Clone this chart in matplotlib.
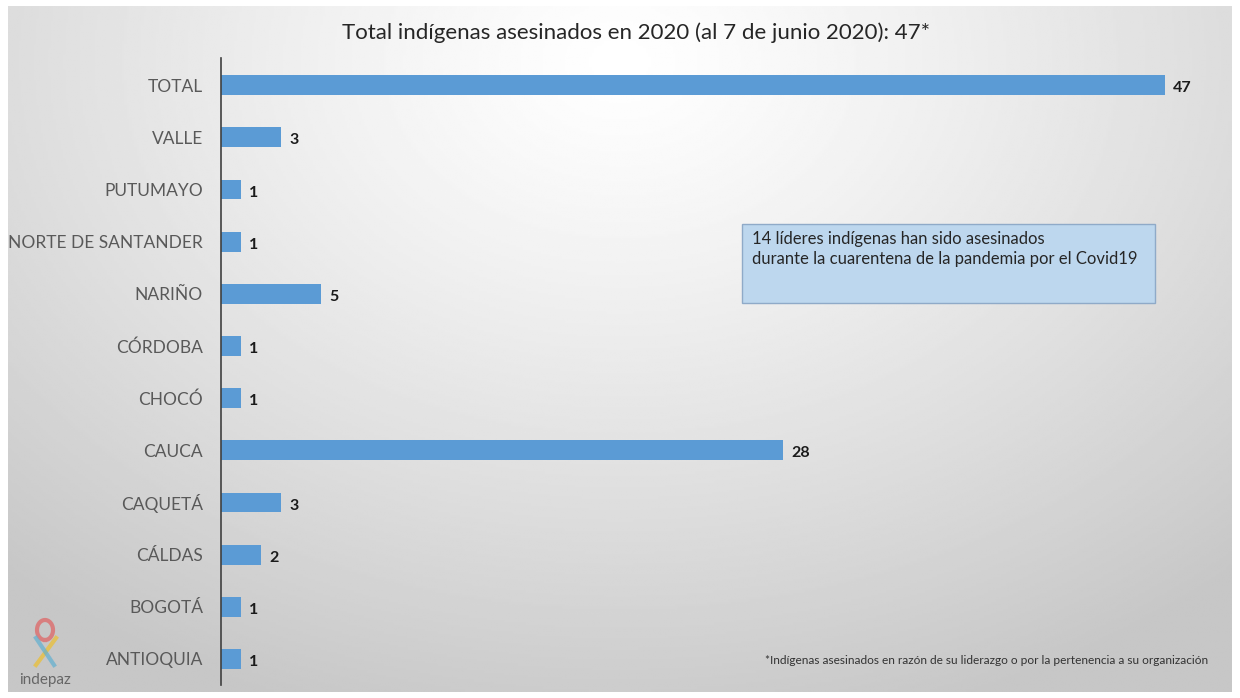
import numpy as np
import matplotlib
matplotlib.use('Agg')
import matplotlib.pyplot as plt
from matplotlib.patches import FancyBboxPatch

# data, top to bottom
regiones = ['TOTAL', 'VALLE', 'PUTUMAYO', 'NORTE DE SANTANDER', 'NARIÑO', 'CÓRDOBA',
            'CHOCÓ', 'CAUCA', 'CAQUETÁ', 'CÁLDAS', 'BOGOTÁ', 'ANTIOQUIA']
asesinados = [47, 3, 1, 1, 5, 1, 1, 28, 3, 2, 1, 1]

titulo = 'Total indígenas asesinados en 2020 (al 7 de junio 2020): 47*'
nota_caja = '14 líderes indígenas han sido asesinados\ndurante la cuarentena de la pandemia por el Covid19'
nota_pie = '*Indígenas asesinados en razón de su liderazgo o por la pertenencia a su organización'

plt.rcParams['font.family'] = ['Lato', 'DejaVu Sans']

W, H = 1240, 698
fig = plt.figure(figsize=(W / 100, H / 100), dpi=100)
fig.patch.set_facecolor('white')

# radial grey background
bg = fig.add_axes([8 / W, 6 / H, 1224 / W, 686 / H])
yy, xx = np.mgrid[0:1:300j, 0:1:500j]
r = np.sqrt(((xx - 0.5) / 0.75) ** 2 + ((yy - 0.08) / 1.0) ** 2)
bg.imshow(1 - 0.22 * np.clip(r, 0, 1) ** 1.2, cmap='gray', vmin=0, vmax=1,
          aspect='auto', extent=[0, 1, 1, 0])
bg.axis('off')

# main chart
ax = fig.add_axes([221 / W, 13 / H, 1004 / W, 627 / H])
ax.set_facecolor('none')
y = np.arange(len(regiones))
ax.barh(y, asesinados, height=0.38, color='#5B9BD5')
for yi, v in zip(y, asesinados):
    ax.text(v + 0.4, yi + 0.06, str(v), va='center', ha='left', fontsize=11.5,
            fontweight='bold', color='#1a1a1a')
ax.set_yticks(y)
ax.set_yticklabels(regiones, fontsize=12.5, color='#595959')
ax.set_ylim(len(regiones) - 0.5, -0.52)
ax.set_xlim(0, 50)
ax.set_xticks([])
for s in ['top', 'right', 'bottom']:
    ax.spines[s].set_visible(False)
ax.spines['left'].set_color('#404040')
ax.spines['left'].set_linewidth(1.2)
ax.tick_params(axis='y', length=0, pad=13)

fig.text(636 / W, 1 - 33 / H, titulo, ha='center', va='center', fontsize=16, color='#262626')

# note box
box = FancyBboxPatch((742 / W, 1 - 303 / H), 413 / W, 79 / H, boxstyle='square,pad=0',
                     transform=fig.transFigure, facecolor='#BDD7EE',
                     edgecolor='#8FAAC8', linewidth=1)
fig.patches.append(box)
fig.text(752 / W, 1 - 231 / H, nota_caja, ha='left', va='top', fontsize=12,
         color='#262626', linespacing=1.3)

fig.text(765 / W, 1 - 660 / H, nota_pie, ha='left', va='center', fontsize=8.6, color='#333333')

# logo
fig.text(45 / W, 1 - 680 / H, 'indepaz', ha='center', va='center', fontsize=11, color='#666666')
t = np.linspace(0, 2 * np.pi, 100)
fig.lines.append(plt.Line2D((45 + 8 * np.sin(t)) / W, 1 - (630 + 10 * np.cos(t)) / H,
                            transform=fig.transFigure, color='#e06060', lw=3, alpha=0.7))
fig.lines.append(plt.Line2D(np.array([36, 56]) / W, 1 - np.array([665, 638]) / H,
                            transform=fig.transFigure, color='#e8c040', lw=3, alpha=0.8))
fig.lines.append(plt.Line2D(np.array([54, 36]) / W, 1 - np.array([665, 638]) / H,
                            transform=fig.transFigure, color='#60b0d0', lw=3, alpha=0.7))

fig.savefig('out.png', dpi=100)
